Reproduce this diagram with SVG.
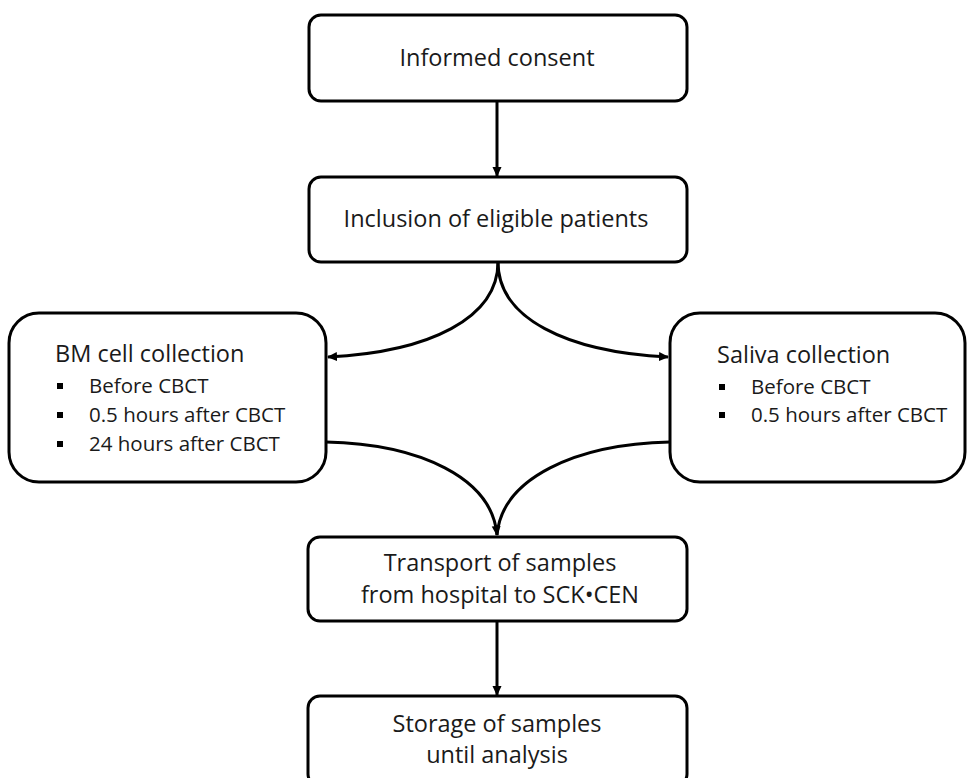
<svg xmlns="http://www.w3.org/2000/svg" width="969" height="778" viewBox="0 0 969 778">
<defs>
<style>
.box{fill:#fff;stroke:#000;stroke-width:3}
.t{font-family:"Open Sans","Noto Sans","Liberation Sans",sans-serif;font-size:23.5px;fill:#1a1a1a}
.c{text-anchor:middle}
.s{font-size:20.5px}
.con{fill:none;stroke:#000;stroke-width:3}
</style>
<marker id="ah" viewBox="0 0 10 10" refX="9" refY="5" markerWidth="10" markerHeight="10" markerUnits="userSpaceOnUse" orient="auto">
<path d="M0,0.5 L10,5 L0,9.5 Z" fill="#000"/>
</marker>
</defs>
<rect width="969" height="778" fill="#fff"/>
<g id="connectors">
<line class="con" x1="497" y1="101" x2="497" y2="176" marker-end="url(#ah)"/>
<path class="con" d="M498,262 C498,318 430,352 328,357" marker-end="url(#ah)"/>
<path class="con" d="M498,262 C498,318 566,352 668,357" marker-end="url(#ah)"/>
<path class="con" d="M326,442 C420,444 492,478 497,535" marker-end="url(#ah)"/>
<path class="con" d="M670,442 C576,444 502,478 497,535"/>
<line class="con" x1="497" y1="621" x2="497" y2="695" marker-end="url(#ah)"/>
</g>
<g id="informed-consent">
<rect class="box" x="309" y="15" width="378" height="86" rx="12"/>
<text class="t c" x="497" y="66">Informed consent</text>
</g>
<g id="inclusion">
<rect class="box" x="309" y="177" width="378" height="85" rx="12"/>
<text class="t c" x="496" y="227">Inclusion of eligible patients</text>
</g>
<g id="bm-cell">
<rect class="box" x="9" y="313" width="317" height="169" rx="30"/>
<text class="t" x="55" y="362">BM cell collection</text>
<rect x="57" y="383" width="6" height="6"/>
<rect x="57" y="412" width="6" height="6"/>
<rect x="57" y="441" width="6" height="6"/>
<text class="t s" x="89" y="393">Before CBCT</text>
<text class="t s" x="89" y="422">0.5 hours after CBCT</text>
<text class="t s" x="89" y="451">24 hours after CBCT</text>
</g>
<g id="saliva">
<rect class="box" x="670" y="313" width="295" height="169" rx="30"/>
<text class="t" x="717" y="363">Saliva collection</text>
<rect x="719" y="384" width="6" height="6"/>
<rect x="719" y="412" width="6" height="6"/>
<text class="t s" x="751" y="394">Before CBCT</text>
<text class="t s" x="751" y="422">0.5 hours after CBCT</text>
</g>
<g id="transport">
<rect class="box" x="308" y="537" width="379" height="84" rx="12"/>
<text class="t c" x="500" y="571">Transport of samples</text>
<text class="t c" x="500" y="603">from hospital to SCK•CEN</text>
</g>
<g id="storage">
<rect class="box" x="308" y="696" width="379" height="90" rx="12"/>
<text class="t c" x="497" y="732">Storage of samples</text>
<text class="t c" x="497" y="763">until analysis</text>
</g>
</svg>
